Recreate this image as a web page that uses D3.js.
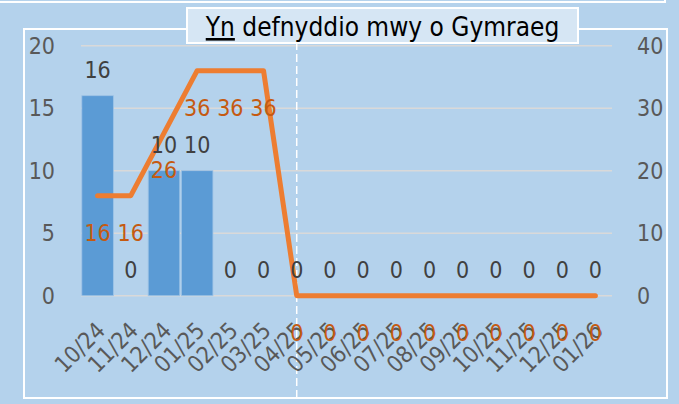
<!DOCTYPE html>
<html lang="en">
<head>
  <meta charset="UTF-8" />
  <title>Yn defnyddio mwy o Gymraeg</title>
  <script src="https://d3js.org/d3.v7.min.js"></script>
  <style>
    html, body { margin: 0; padding: 0; background: #b4d2ec; }
    svg { display: block; font-family: "DejaVu Sans Condensed", "Liberation Sans", sans-serif; }
  </style>
</head>
<body>
  <svg id="chart" width="679" height="404"></svg>

  <script>
    const months = ["10/24", "11/24", "12/24", "01/25", "02/25", "03/25", "04/25", "05/25",
                    "06/25", "07/25", "08/25", "09/25", "10/25", "11/25", "12/25", "01/26"];
    const barValues = [16, 0, 10, 10, 0, 0, 0, 0, 0, 0, 0, 0, 0, 0, 0, 0];
    const lineValues = [16, 16, 26, 36, 36, 36, 0, 0, 0, 0, 0, 0, 0, 0, 0, 0];
    const leftTicks = [0, 5, 10, 15, 20];
    const rightTicks = [0, 10, 20, 30, 40];
    const markerMonth = "04/25";

    const svg = d3.select("#chart");

    const x = d3.scaleBand().domain(months).range([81, 612])
      .paddingInner(0.05).paddingOuter(0.025);
    const yL = d3.scaleLinear().domain([0, 20]).range([295.7, 45.7]);
    const yR = d3.scaleLinear().domain([0, 40]).range([295.7, 45.7]);
    const cx = m => x(m) + x.bandwidth() / 2;

    // top edge of outer frame
    svg.append("path").attr("d", "M0,2H665V0")
      .attr("fill", "none").attr("stroke", "#fff").attr("stroke-width", 2);

    // plot frame
    svg.append("rect").attr("x", 24).attr("y", 29).attr("width", 643).attr("height", 369)
      .attr("fill", "none").attr("stroke", "#fff").attr("stroke-width", 2);

    // gridlines
    svg.append("g").selectAll("line").data(leftTicks).join("line")
      .attr("x1", 81).attr("x2", 612)
      .attr("y1", d => yL(d)).attr("y2", d => yL(d))
      .attr("stroke", "#d9d9d9").attr("stroke-width", 1.5);

    // left axis labels
    svg.append("g").selectAll("text").data(leftTicks).join("text")
      .attr("x", 55).attr("y", d => yL(d)).attr("dy", "0.36em")
      .attr("text-anchor", "end").attr("font-size", 23).attr("fill", "#595959")
      .text(d => d);

    // right axis labels
    svg.append("g").selectAll("text").data(rightTicks).join("text")
      .attr("x", 637).attr("y", d => yR(d)).attr("dy", "0.36em")
      .attr("text-anchor", "start").attr("font-size", 23).attr("fill", "#595959")
      .text(d => d);

    // bars
    svg.append("g").selectAll("rect").data(barValues).join("rect")
      .attr("x", (d, i) => x(months[i]))
      .attr("y", d => yL(d))
      .attr("width", x.bandwidth())
      .attr("height", d => yL(0) - yL(d))
      .attr("fill", "#5b9bd5")
      .attr("stroke", "#9dc3e6").attr("stroke-width", 0.8);

    // marker dashed line
    svg.append("line")
      .attr("x1", cx(markerMonth)).attr("x2", cx(markerMonth))
      .attr("y1", 30).attr("y2", 397)
      .attr("stroke", "#fff").attr("stroke-width", 1.5)
      .attr("stroke-dasharray", "8,4");

    // line series
    const line = d3.line().x((d, i) => cx(months[i])).y(d => yR(d));
    svg.append("path").datum(lineValues)
      .attr("d", line)
      .attr("fill", "none").attr("stroke", "#ed7d31").attr("stroke-width", 5)
      .attr("stroke-linejoin", "round").attr("stroke-linecap", "round");

    // x labels
    svg.append("g").selectAll("text").data(months).join("text")
      .attr("transform", d => `translate(${cx(d) + 3},${326}) rotate(-45)`)
      .attr("text-anchor", "end").attr("dy", "0.36em")
      .attr("font-size", 23).attr("fill", "#595959")
      .text(d => d);

    // bar labels
    svg.append("g").selectAll("text").data(barValues).join("text")
      .attr("x", (d, i) => cx(months[i]))
      .attr("y", d => yL(d) - 18)
      .attr("text-anchor", "middle").attr("font-size", 23).attr("fill", "#404040")
      .text(d => d);

    // line labels
    svg.append("g").selectAll("text").data(lineValues).join("text")
      .attr("x", (d, i) => cx(months[i]))
      .attr("y", d => yR(d) + 45)
      .attr("text-anchor", "middle").attr("font-size", 23).attr("fill", "#c55a11")
      .text(d => d);

    // title box
    svg.append("rect").attr("x", 187).attr("y", 8).attr("width", 391).attr("height", 35)
      .attr("fill", "#d6e6f4").attr("stroke", "#fff").attr("stroke-width", 2);
    const title = svg.append("text").attr("x", 382.5).attr("y", 36)
      .attr("text-anchor", "middle").attr("font-size", 26).attr("fill", "#000");
    title.append("tspan").attr("text-decoration", "underline").text("Yn");
    title.append("tspan").text(" defnyddio mwy o Gymraeg");
  </script>
</body>
</html>
